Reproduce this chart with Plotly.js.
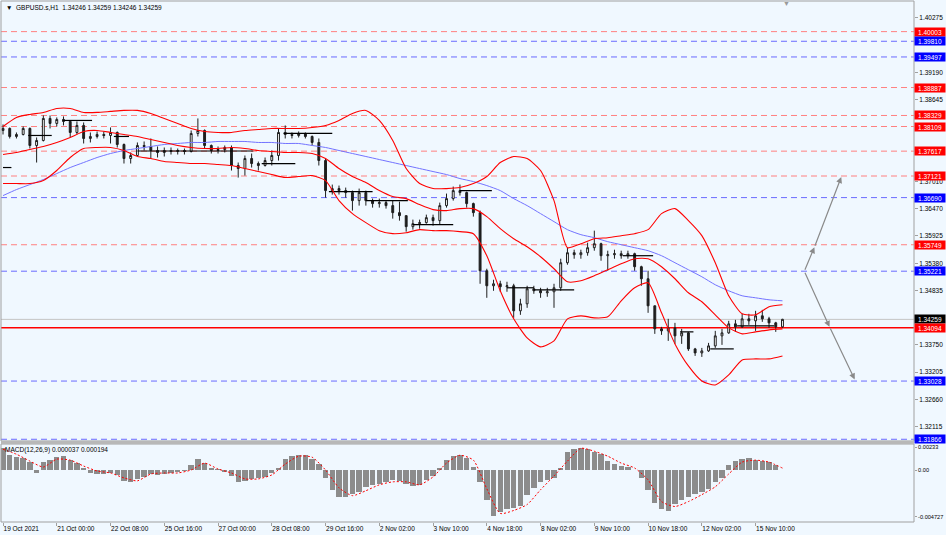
<!DOCTYPE html>
<html>
<head>
<meta charset="utf-8">
<script src="https://cdn.plot.ly/plotly-3.0.1.min.js"></script>
<style>
  html, body { margin: 0; padding: 0; background: #f0f8ff; }
  #chart { width: 946px; height: 535px; }
</style>
</head>
<body>
<div id="chart"></div>
<script>
const BAR_HOURS = 4;
const LINE_HOURS = 8;

const barOpen = [
  1.3803, 1.3807, 1.3791, 1.3795, 1.3807, 1.3773, 1.3783, 1.3827, 1.3817, 1.3825,
  1.3821, 1.3799, 1.3813, 1.3787, 1.3791, 1.3795, 1.3793, 1.3799, 1.3775, 1.3747,
  1.3753, 1.3773, 1.3771, 1.3763, 1.3759, 1.3763, 1.3761, 1.3763, 1.3761, 1.3797,
  1.3803, 1.3773, 1.3763, 1.3765, 1.3769, 1.3733, 1.3727, 1.3747, 1.3737, 1.3733,
  1.3743, 1.3753, 1.3799, 1.3795, 1.3793, 1.3797, 1.3791, 1.3779, 1.3743, 1.3683,
  1.3687, 1.3683, 1.3679, 1.3663, 1.3679, 1.3663, 1.3657, 1.3659, 1.3653, 1.3639,
  1.3633, 1.3611, 1.3617, 1.3619, 1.3629, 1.3623, 1.3653, 1.3667, 1.3683, 1.3679,
  1.3657, 1.3639, 1.3523, 1.3493, 1.3497, 1.3491, 1.3493, 1.3443, 1.3457, 1.3487,
  1.3483, 1.3479, 1.3481, 1.3489, 1.3539, 1.3559, 1.3555, 1.3559, 1.3569, 1.3577,
  1.3553, 1.3555, 1.3557, 1.3553, 1.3557, 1.3531, 1.3507, 1.3453, 1.3407, 1.3403,
  1.3409, 1.3393, 1.3399, 1.3367, 1.3359, 1.3363, 1.3373, 1.3393, 1.3399, 1.3417,
  1.3411, 1.3427, 1.3423, 1.3433, 1.3427, 1.3419, 1.3411,
];
const barHigh = [
  1.3815, 1.3809, 1.3799, 1.3811, 1.3809, 1.3789, 1.3833, 1.3833, 1.3829, 1.3831,
  1.3823, 1.3821, 1.3819, 1.3799, 1.3801, 1.3801, 1.3809, 1.3801, 1.3777, 1.3759,
  1.3779, 1.3781, 1.3787, 1.3771, 1.3769, 1.3769, 1.3767, 1.3767, 1.3803, 1.3827,
  1.3805, 1.3775, 1.3771, 1.3773, 1.3773, 1.3739, 1.3753, 1.3757, 1.3741, 1.3749,
  1.3763, 1.3807, 1.3813, 1.3799, 1.3801, 1.3799, 1.3793, 1.3787, 1.3747, 1.3695,
  1.3693, 1.3689, 1.3683, 1.3687, 1.3683, 1.3667, 1.3667, 1.3663, 1.3663, 1.3661,
  1.3633, 1.3625, 1.3625, 1.3635, 1.3635, 1.3659, 1.3677, 1.3691, 1.3695, 1.3681,
  1.3659, 1.3643, 1.3527, 1.3505, 1.3503, 1.3501, 1.3497, 1.3467, 1.3493, 1.3493,
  1.3489, 1.3489, 1.3497, 1.3547, 1.3569, 1.3565, 1.3565, 1.3579, 1.3603, 1.3579,
  1.3563, 1.3565, 1.3563, 1.3563, 1.3559, 1.3533, 1.3523, 1.3453, 1.3411, 1.3427,
  1.3419, 1.3407, 1.3401, 1.3369, 1.3369, 1.3379, 1.3403, 1.3407, 1.3423, 1.3425,
  1.3437, 1.3437, 1.3443, 1.3445, 1.3431, 1.3421, 1.3427,
];
const barLow = [
  1.3795, 1.3787, 1.3787, 1.3793, 1.3767, 1.3739, 1.3781, 1.3807, 1.3811, 1.3813,
  1.3789, 1.3795, 1.3777, 1.3779, 1.3787, 1.3787, 1.3777, 1.3769, 1.3737, 1.3737,
  1.3751, 1.3763, 1.3747, 1.3749, 1.3751, 1.3755, 1.3755, 1.3755, 1.3759, 1.3791,
  1.3767, 1.3757, 1.3757, 1.3759, 1.3723, 1.3709, 1.3713, 1.3729, 1.3723, 1.3731,
  1.3733, 1.3743, 1.3787, 1.3787, 1.3789, 1.3787, 1.3773, 1.3733, 1.3669, 1.3675,
  1.3675, 1.3669, 1.3643, 1.3653, 1.3653, 1.3649, 1.3649, 1.3647, 1.3627, 1.3623,
  1.3601, 1.3605, 1.3607, 1.3617, 1.3613, 1.3615, 1.3649, 1.3663, 1.3673, 1.3649,
  1.3631, 1.3497, 1.3469, 1.3483, 1.3481, 1.3481, 1.3429, 1.3435, 1.3449, 1.3477,
  1.3469, 1.3471, 1.3449, 1.3483, 1.3535, 1.3547, 1.3547, 1.3553, 1.3563, 1.3543,
  1.3523, 1.3547, 1.3547, 1.3547, 1.3523, 1.3493, 1.3439, 1.3397, 1.3395, 1.3383,
  1.3377, 1.3377, 1.3363, 1.3353, 1.3351, 1.3361, 1.3369, 1.3375, 1.3397, 1.3401,
  1.3409, 1.3415, 1.3403, 1.3421, 1.3409, 1.3401, 1.3409,
];
const barClose = [
  1.3807, 1.3791, 1.3795, 1.3807, 1.3773, 1.3783, 1.3827, 1.3817, 1.3825, 1.3821,
  1.3799, 1.3813, 1.3787, 1.3791, 1.3795, 1.3793, 1.3799, 1.3775, 1.3747, 1.3753,
  1.3773, 1.3771, 1.3763, 1.3759, 1.3763, 1.3761, 1.3763, 1.3761, 1.3797, 1.3803,
  1.3773, 1.3763, 1.3765, 1.3769, 1.3733, 1.3727, 1.3747, 1.3737, 1.3733, 1.3743,
  1.3753, 1.3799, 1.3795, 1.3793, 1.3797, 1.3791, 1.3779, 1.3743, 1.3683, 1.3687,
  1.3683, 1.3679, 1.3663, 1.3679, 1.3663, 1.3657, 1.3659, 1.3653, 1.3639, 1.3633,
  1.3611, 1.3617, 1.3619, 1.3629, 1.3623, 1.3653, 1.3667, 1.3683, 1.3679, 1.3657,
  1.3639, 1.3523, 1.3493, 1.3497, 1.3491, 1.3493, 1.3443, 1.3457, 1.3487, 1.3483,
  1.3479, 1.3481, 1.3489, 1.3539, 1.3559, 1.3555, 1.3559, 1.3569, 1.3577, 1.3553,
  1.3555, 1.3557, 1.3553, 1.3557, 1.3531, 1.3507, 1.3453, 1.3407, 1.3403, 1.3409,
  1.3393, 1.3399, 1.3367, 1.3359, 1.3363, 1.3373, 1.3393, 1.3399, 1.3417, 1.3411,
  1.3427, 1.3423, 1.3433, 1.3427, 1.3419, 1.3411, 1.3426,
];

// indicator lines, one reading every 8 hours
const bandUpper = [
  1.3811, 1.3829, 1.3835, 1.3839, 1.3847, 1.3847, 1.3839, 1.3839, 1.3841, 1.3843,
  1.3843, 1.3837, 1.3827, 1.3817, 1.3807, 1.3801, 1.3799, 1.3799, 1.3803, 1.3805,
  1.3807, 1.3807, 1.3807, 1.3809, 1.3813, 1.3823, 1.3837, 1.3843, 1.3823, 1.3783,
  1.3727, 1.3697, 1.3687, 1.3687, 1.3689, 1.3697, 1.3711, 1.3739, 1.3751, 1.3747,
  1.3723, 1.3663, 1.3569, 1.3577, 1.3587, 1.3589, 1.3593, 1.3597, 1.3605, 1.3637,
  1.3647, 1.3623, 1.3593, 1.3539, 1.3473, 1.3437, 1.3435, 1.3451, 1.3455,
];
const bandMiddle = [
  1.3755, 1.3759, 1.3765, 1.3771, 1.3779, 1.3789, 1.3801, 1.3803, 1.3799, 1.3795,
  1.3791, 1.3785, 1.3779, 1.3773, 1.3769, 1.3767, 1.3767, 1.3769, 1.3767, 1.3763,
  1.3761, 1.3759, 1.3759, 1.3757, 1.3747, 1.3727, 1.3711, 1.3699, 1.3683, 1.3671,
  1.3667, 1.3655, 1.3645, 1.3643, 1.3647, 1.3647, 1.3631, 1.3607, 1.3587, 1.3571,
  1.3551, 1.3527, 1.3501, 1.3503, 1.3513, 1.3525, 1.3537, 1.3547, 1.3547, 1.3531,
  1.3507, 1.3479, 1.3461, 1.3435, 1.3409, 1.3397, 1.3401, 1.3405, 1.3407,
];
const bandLower = [
  1.3697, 1.3697, 1.3697, 1.3703, 1.3723, 1.3749, 1.3767, 1.3769, 1.3769, 1.3763,
  1.3751, 1.3747, 1.3741, 1.3739, 1.3737, 1.3737, 1.3735, 1.3733, 1.3727, 1.3721,
  1.3715, 1.3709, 1.3711, 1.3713, 1.3703, 1.3663, 1.3637, 1.3619, 1.3603, 1.3597,
  1.3599, 1.3605, 1.3603, 1.3603, 1.3601, 1.3597, 1.3553, 1.3483, 1.3427, 1.3389,
  1.3371, 1.3383, 1.3427, 1.3433, 1.3429, 1.3431, 1.3463, 1.3489, 1.3499, 1.3439,
  1.3377, 1.3333, 1.3303, 1.3295, 1.3315, 1.3345, 1.3347, 1.3347, 1.3353,
];
const slowMa = [
  1.3673, 1.3685, 1.3695, 1.3705, 1.3717, 1.3729, 1.3739, 1.3749, 1.3757, 1.3763,
  1.3767, 1.3771, 1.3775, 1.3777, 1.3779, 1.3779, 1.3781, 1.3781, 1.3781, 1.3779,
  1.3779, 1.3777, 1.3777, 1.3773, 1.3769, 1.3763, 1.3757, 1.3751, 1.3745, 1.3739,
  1.3733, 1.3727, 1.3721, 1.3715, 1.3707, 1.3701, 1.3693, 1.3683, 1.3667, 1.3653,
  1.3637, 1.3621, 1.3605, 1.3595, 1.3589, 1.3581, 1.3575, 1.3569, 1.3563, 1.3553,
  1.3539, 1.3525, 1.3511, 1.3495, 1.3483, 1.3473, 1.3469, 1.3465, 1.3463,
];

// MACD(12,26,9): main value per candle, signal every 8 hours
const macdMain = [
  0.0022, 0.0015, 0.0013, 0.0012, 0.0008, -0.0003, 0.0008, 0.0010, 0.0013, 0.0014,
  0.0010, 0.0007, 0.0002, -0.0003, -0.0004, -0.0004, -0.0003, -0.0005, -0.0011, -0.0012,
  -0.0009, -0.0007, -0.0004, -0.0005, -0.0004, -0.0003, -0.0002, -0.0001, 0.0005, 0.0011,
  0.0007, 0.0002, 0.0001, -0.0002, -0.0006, -0.0012, -0.0011, -0.0009, -0.0008, -0.0007,
  -0.0003, 0.0002, 0.0011, 0.0014, 0.0015, 0.0015, 0.0011, 0.0006, -0.0008, -0.0020,
  -0.0027, -0.0027, -0.0024, -0.0022, -0.0017, -0.0015, -0.0014, -0.0012, -0.0010, -0.0011,
  -0.0014, -0.0016, -0.0015, -0.0010, -0.0006, 0.0002, 0.0010, 0.0014, 0.0015, 0.0012,
  0.0003, -0.0012, -0.0030, -0.0047, -0.0043, -0.0040, -0.0038, -0.0036, -0.0025, -0.0018,
  -0.0012, -0.0010, -0.0008, 0.0002, 0.0018, 0.0021, 0.0022, 0.0021, 0.0018, 0.0016,
  0.0009, 0.0006, 0.0004, 0.0003, 0.0000, -0.0008, -0.0020, -0.0033, -0.0040, -0.0042,
  -0.0034, -0.0030, -0.0027, -0.0024, -0.0022, -0.0019, -0.0012, -0.0008, 0.0005, 0.0009,
  0.0011, 0.0012, 0.0010, 0.0009, 0.0008, 0.0005, 0.000037,
];
const macdSignal = [
  0.0021, 0.0016, 0.0009, 0.0003, 0.0011, 0.0010, 0.0004, -0.0001, -0.0003, -0.0008,
  -0.0011, -0.0004, -0.0003, -0.0003, 0.0000, 0.0007, 0.0001, -0.0003, -0.0009, -0.0009,
  -0.0005, 0.0006, 0.0014, 0.0013, 0.0000, -0.0018, -0.0026, -0.0021, -0.0015, -0.0012,
  -0.0012, -0.0015, -0.0007, 0.0007, 0.0015, 0.0010, -0.0019, -0.0044, -0.0041, -0.0035,
  -0.0020, -0.0006, 0.0009, 0.0022, 0.0019, 0.0014, 0.0007, 0.0002, -0.0010, -0.0032,
  -0.0037, -0.0032, -0.0025, -0.0017, -0.0004, 0.0008, 0.0010, 0.0008, 0.000194,
];

// short black horizontal segments (hours from the first tick)
const segStart = [0, 15, 36, 66, 80, 154, 167, 194, 216, 244, 272, 300, 316, 369, 403, 421, 437];
const segEnd = [5, 29, 53, 75, 149, 174, 196, 220, 241, 268, 291, 316, 340, 387, 411, 435, 459];
const segLevel = [
  1.3729, 1.3793, 1.3823, 1.3791, 1.3762, 1.3737, 1.3797, 1.3681, 1.3663,
  1.3615, 1.3683, 1.3489, 1.3485, 1.3553, 1.3401, 1.3367, 1.3413,
];

// horizontal levels drawn on the chart
const redLevels = [1.40003, 1.38887, 1.38329, 1.38109, 1.37617, 1.37121, 1.35749];
const blueLevels = [1.39810, 1.39497, 1.36690, 1.35221, 1.33028, 1.31866];
const keyLevel = 1.34094;
const lastPrice = 1.34259;

// projection arrows: start, then the two legs (midpoint, end)
const projStart = { hour: 477, price: 1.35221 };
const projUpHours = [483, 499];
const projUpPrices = [1.3570, 1.3710];
const projDownHours = [492, 507];
const projDownPrices = [1.3411, 1.3306];

const tickHours = [0, 32, 64, 96, 128, 160, 192, 224, 256, 288, 320, 352, 384, 416, 448];
const tickLabels = [
  "19 Oct 2021", "21 Oct 00:00", "22 Oct 08:00", "25 Oct 16:00", "27 Oct 00:00",
  "28 Oct 08:00", "29 Oct 16:00", "2 Nov 02:00", "3 Nov 10:00", "4 Nov 18:00",
  "8 Nov 02:00", "9 Nov 10:00", "10 Nov 18:00", "12 Nov 02:00", "15 Nov 10:00",
];
// scale prices that stay readable beside the coloured level labels
const priceTicks = [
  1.40275, 1.39190, 1.38645, 1.37010, 1.36470,
  1.35925, 1.35380, 1.34835, 1.33750, 1.33205, 1.32660, 1.32115,
];
const macdTicks = [0.00233, 0, -0.004727];
const macdTickText = ["0.00233", "0.00", "-0.004727"];

const THEME = {
  bg: "#f0f8ff",
  frame: "#a0a0a0",
  ink: "#000000",
  candle: "#1e1e1e",
  band: "#ff0000",
  ma: "#7373ff",
  levelRed: "#ff8080",
  levelBlue: "#6b6bff",
  labelRed: "#ff0000",
  labelBlue: "#0000ff",
  hist: "#8c8c8c",
  arrow: "#8a8a8a",
  font: "\"Liberation Sans\", Arial, sans-serif",
};

// panel split, in paper fractions (plot area is 521 px tall)
const MAIN_DOMAIN = [0.1555, 1];
const MACD_DOMAIN = [0, 0.1497];

const barHours = barOpen.map((_, i) => i * BAR_HOURS);
const lineHours = bandUpper.map((_, i) => i * LINE_HOURS);

function lineTrace(y, line, extra = {}) {
  return {
    type: "scatter",
    mode: "lines",
    x: lineHours,
    y,
    line: { shape: "spline", smoothing: 0.6, ...line },
    hoverinfo: "skip",
    showlegend: false,
    ...extra,
  };
}

const segX = [];
const segY = [];
segStart.forEach((s, i) => {
  segX.push(s, segEnd[i], null);
  segY.push(segLevel[i], segLevel[i], null);
});

const traces = [
  {
    type: "candlestick",
    x: barHours,
    open: barOpen,
    high: barHigh,
    low: barLow,
    close: barClose,
    increasing: { line: { color: THEME.candle, width: 1 }, fillcolor: "#ffffff" },
    decreasing: { line: { color: THEME.candle, width: 1 }, fillcolor: THEME.candle },
    whiskerwidth: 0,
    hoverinfo: "skip",
    showlegend: false,
  },
  {
    type: "scatter",
    mode: "lines",
    x: segX,
    y: segY,
    line: { color: THEME.ink, width: 1.2 },
    hoverinfo: "skip",
    showlegend: false,
  },
  lineTrace(slowMa, { color: THEME.ma, width: 1 }),
  lineTrace(bandUpper, { color: THEME.band, width: 1.1 }),
  lineTrace(bandMiddle, { color: THEME.band, width: 1.1 }),
  lineTrace(bandLower, { color: THEME.band, width: 1.1 }),
  {
    type: "bar",
    x: barHours,
    y: macdMain,
    yaxis: "y2",
    width: 3.2,
    marker: { color: THEME.hist, line: { width: 0 } },
    hoverinfo: "skip",
    showlegend: false,
  },
  lineTrace(macdSignal, { color: THEME.band, width: 1, dash: "2px,2px" }, { yaxis: "y2" }),
];

function levelShape(price, color, width, dash) {
  return {
    type: "line",
    xref: "paper",
    x0: 0,
    x1: 1,
    yref: "y",
    y0: price,
    y1: price,
    line: { color, width, dash },
    layer: "below",
  };
}

function priceLabel(price, bg) {
  return {
    xref: "paper",
    x: 1,
    xanchor: "left",
    yref: "y",
    y: price,
    text: price.toFixed(5),
    showarrow: false,
    font: { family: THEME.font, size: 6.5, color: "#ffffff" },
    bgcolor: bg,
    width: 30,
    height: 8,
    borderpad: 0,
  };
}

function arrowLeg(fromHour, fromPrice, toHour, toPrice) {
  return {
    x: toHour,
    y: toPrice,
    ax: fromHour,
    ay: fromPrice,
    xref: "x",
    yref: "y",
    axref: "x",
    ayref: "y",
    text: "",
    showarrow: true,
    arrowhead: 2,
    arrowsize: 1,
    arrowwidth: 1.2,
    arrowcolor: THEME.arrow,
    standoff: 0,
  };
}

const shapes = [
  ...redLevels.map((p) => levelShape(p, THEME.levelRed, 1, "6px,4px")),
  ...blueLevels.map((p) => levelShape(p, THEME.levelBlue, 1, "6px,4px")),
  levelShape(lastPrice, "#c4c4c4", 1, "solid"),
  levelShape(keyLevel, "#ff0000", 1.5, "solid"),
  // panel frames and separator
  {
    type: "rect", xref: "paper", yref: "paper", x0: 0, x1: 1,
    y0: MAIN_DOMAIN[0], y1: MAIN_DOMAIN[1],
    line: { color: THEME.frame, width: 1 }, fillcolor: "rgba(0,0,0,0)",
  },
  {
    type: "rect", xref: "paper", yref: "paper", x0: 0, x1: 1,
    y0: MACD_DOMAIN[0], y1: MACD_DOMAIN[1],
    line: { color: THEME.frame, width: 1 }, fillcolor: "rgba(0,0,0,0)",
  },
  {
    type: "rect", xref: "paper", yref: "paper", x0: 0, x1: 1,
    y0: MACD_DOMAIN[1], y1: MAIN_DOMAIN[0],
    line: { width: 0 }, fillcolor: "#b8b8b8",
  },
];

const annotations = [
  ...redLevels.map((p) => priceLabel(p, THEME.labelRed)),
  ...blueLevels.map((p) => priceLabel(p, THEME.labelBlue)),
  priceLabel(lastPrice, "#000000"),
  priceLabel(keyLevel, THEME.labelRed),
  arrowLeg(projStart.hour, projStart.price, projUpHours[0], projUpPrices[0]),
  arrowLeg(projUpHours[0], projUpPrices[0], projUpHours[1], projUpPrices[1]),
  arrowLeg(projStart.hour, projStart.price, projDownHours[0], projDownPrices[0]),
  arrowLeg(projDownHours[0], projDownPrices[0], projDownHours[1], projDownPrices[1]),
  {
    xref: "paper", yref: "paper", x: 0.003, y: 1, xanchor: "left", yanchor: "top",
    yshift: -1,
    text: "\u25BC  GBPUSD.s,H1  1.34246 1.34259 1.34246 1.34259",
    showarrow: false,
    font: { family: THEME.font, size: 6.5, color: THEME.ink },
  },
  {
    xref: "paper", yref: "paper", x: 0.002, y: MACD_DOMAIN[1], xanchor: "left", yanchor: "top",
    text: "MACD(12,26,9) 0.000037 0.000194",
    showarrow: false,
    font: { family: THEME.font, size: 6.5, color: THEME.ink },
  },
  {
    xref: "x", yref: "paper", x: 466.5, y: 1, yanchor: "top", yshift: 3,
    text: "\u25BC",
    showarrow: false,
    font: { family: THEME.font, size: 7, color: "#9a9a9a" },
  },
];

const layout = {
  width: 946,
  height: 535,
  margin: { l: 1, r: 32, t: 1, b: 13 },
  paper_bgcolor: THEME.bg,
  plot_bgcolor: THEME.bg,
  font: { family: THEME.font, color: THEME.ink, size: 6.5 },
  showlegend: false,
  dragmode: false,
  hovermode: false,
  bargap: 0,
  boxgap: 0.6,
  xaxis: {
    range: [-1.2, 542.3],
    anchor: "y2",
    tickvals: tickHours,
    ticktext: tickLabels,
    ticks: "outside",
    ticklen: 3,
    tickcolor: THEME.frame,
    ticklabelposition: "outside right",
    tickfont: { size: 6.5 },
    showgrid: false,
    zeroline: false,
    showline: false,
    fixedrange: true,
    automargin: false,
    rangeslider: { visible: false },
  },
  yaxis: {
    domain: MAIN_DOMAIN,
    range: [1.31832, 1.40614],
    anchor: "x",
    side: "right",
    tickvals: priceTicks,
    tickformat: ".5f",
    ticks: "outside",
    ticklen: 3,
    tickcolor: THEME.frame,
    tickfont: { size: 6.5 },
    showgrid: false,
    zeroline: false,
    showline: false,
    fixedrange: true,
    automargin: false,
  },
  yaxis2: {
    domain: MACD_DOMAIN,
    range: [-0.005268, 0.002634],
    anchor: "x",
    side: "right",
    tickvals: macdTicks,
    ticktext: macdTickText,
    ticks: "outside",
    ticklen: 2,
    tickcolor: THEME.frame,
    tickfont: { size: 5.6 },
    showgrid: false,
    zeroline: false,
    showline: false,
    fixedrange: true,
    automargin: false,
  },
  shapes,
  annotations,
};

Plotly.newPlot("chart", traces, layout, { staticPlot: true, displayModeBar: false });
</script>
</body>
</html>
